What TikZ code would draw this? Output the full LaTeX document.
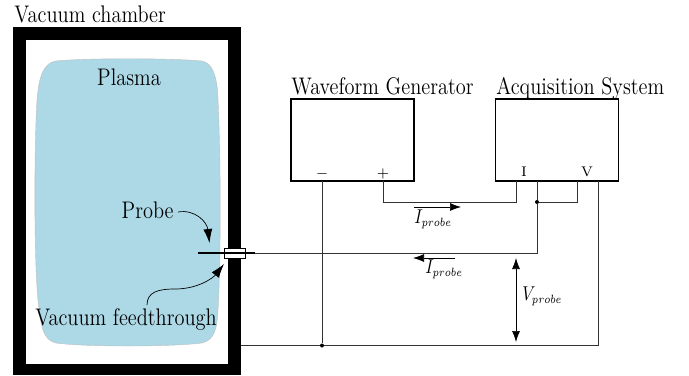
\documentclass[tikz,border=0pt]{standalone}
\usepackage{graphicx}
\usetikzlibrary{arrows.meta}
\DeclareMathSizes{10}{10}{6.5}{5}
\newcommand{\narrowtxt}[1]{\scalebox{0.85}[1]{\fontsize{12}{14}\selectfont #1}}
\newcommand{\narrowmath}[1]{\scalebox{0.82}[1]{\fontsize{10}{12}\selectfont #1}}
\definecolor{plasmablue}{RGB}{173,216,230}
\tikzset{
  lbl/.style={inner sep=0pt},
  small/.style={inner sep=0pt,font=\fontsize{7}{8}\selectfont},
  instrument/.style={draw,line width=0.6pt,minimum width=61.5pt,minimum height=41pt,inner sep=0pt},
  wire/.style={line width=0.5pt,draw=black!80},
  flow/.style={line width=0.35pt,-{Latex[length=5.5pt,width=4pt]}},
  callout/.style={line width=0.35pt,-{Latex[length=7pt,width=4.5pt]}},
  junction/.style={circle,fill=black,inner sep=0pt,minimum size=2pt}
}
\begin{document}
\begin{tikzpicture}[x=0.5pt,y=-0.5pt]
\useasboundingbox (0,0) rectangle (689,375);
% chamber wall
\fill[black] (13,27) rectangle (240.5,375);
\fill[white] (26,39.5) rectangle (228,364);
% plasma
\fill[plasmablue,draw=black!25,line width=0.2pt] (56,61)
  .. controls (85,58) and (170,58) .. (202,61)
  .. controls (212,63) and (216,75) .. (217.5,90)
  .. controls (221,150) and (221,260) .. (218,310)
  .. controls (217,330) and (214,340) .. (202,343)
  .. controls (170,347) and (85,347) .. (56,343)
  .. controls (44,340) and (41,330) .. (38,300)
  .. controls (34,260) and (34,150) .. (37,100)
  .. controls (39,75) and (44,63) .. (56,61) -- cycle;
% labels
\node[lbl,anchor=base west] (chamber) at (14,22.5) {\narrowtxt{Vacuum chamber}};
\node[lbl,anchor=base] (plasma) at (129,85) {\narrowtxt{Plasma}};
\node[lbl,anchor=base east] (probe) at (174,218) {\narrowtxt{Probe}};
\node[lbl,anchor=base] (feed) at (126,325) {\narrowtxt{Vacuum feedthrough}};
% instruments
\node[instrument] (wg) at (352.5,140) {};
\node[instrument] (acq) at (557,140) {};
\node[lbl,anchor=base west] at (291,94.5) {\narrowtxt{Waveform Generator}};
\node[lbl,anchor=base west] at (496,94.5) {\narrowtxt{Acquisition System}};
\node[small,anchor=base] (minus) at (322,177) {$-$};
\node[small,anchor=base] (plus) at (383,177) {$+$};
\node[small,anchor=base] (portI) at (524,176) {I};
\node[small,anchor=base] (portV) at (587,176) {V};
% anchor points
\coordinate (minusT) at (322,181);
\coordinate (plusT) at (383,181);
\coordinate (plusB) at (383,202);
\coordinate (iT) at (516,181);
\coordinate (iB) at (516,202);
\coordinate (midT) at (537,181);
\coordinate (vsT) at (577.5,181);
\coordinate (vsB) at (577.5,202);
\coordinate (probeWire) at (537,253);
\coordinate (vT) at (598,181);
\coordinate (vB) at (598,345.5);
\coordinate (wall) at (240.5,345.5);
\coordinate (tipL) at (198,253);
\coordinate (tipR) at (255,253);
\node[junction] (j1) at (537,202) {};
\node[junction] (j2) at (322,345.5) {};
% wires
\draw[wire] (plusT) -- (plusB) -- (iB) -- (iT);
\draw[wire] (vsT) -- (vsB) -- (j1);
\draw[wire] (midT) -- (j1) -- (probeWire) -- (tipR);
\draw[wire] (minusT) -- (j2);
\draw[wire] (vT) -- (vB) -- (j2) -- (wall);
% feedthrough and probe
\node[draw,fill=white,line width=0.5pt,minimum width=10.5pt,minimum height=5pt,inner sep=0pt] (ft) at (234.5,253) {};
\draw[line width=1.3pt] (tipL) -- (tipR);
% callouts
\coordinate (pa) at (178,212);
\coordinate (pb) at (209.5,243);
\coordinate (fa) at (147,305);
\coordinate (fm) at (175,289);
\coordinate (fb) at (224,264);
\draw[callout] (pa) .. controls (195,209) and (207,222) .. (pb);
\draw[callout] (fa) .. controls (147,292) and (158,289) .. (fm) .. controls (198,289) and (213,278) .. (fb);
% current and voltage arrows
\coordinate (a1) at (414,207); \coordinate (a2) at (461,207);
\coordinate (b1) at (455,258); \coordinate (b2) at (413,258);
\coordinate (c1) at (516,258); \coordinate (c2) at (516,342);
\draw[flow] (a1) -- (a2);
\draw[flow] (b1) -- (b2);
\draw[line width=0.35pt,{Latex[length=5.5pt,width=4pt]}-{Latex[length=5.5pt,width=4pt]}] (c1) -- (c2);
\node[lbl,anchor=base west] (i1) at (414,223) {\narrowmath{$I_{probe}$}};
\node[lbl,anchor=base west] (i2) at (425,273) {\narrowmath{$I_{probe}$}};
\node[lbl,anchor=base west] (v1) at (522,300) {\narrowmath{$V_{probe}$}};
\end{tikzpicture}
\end{document}
